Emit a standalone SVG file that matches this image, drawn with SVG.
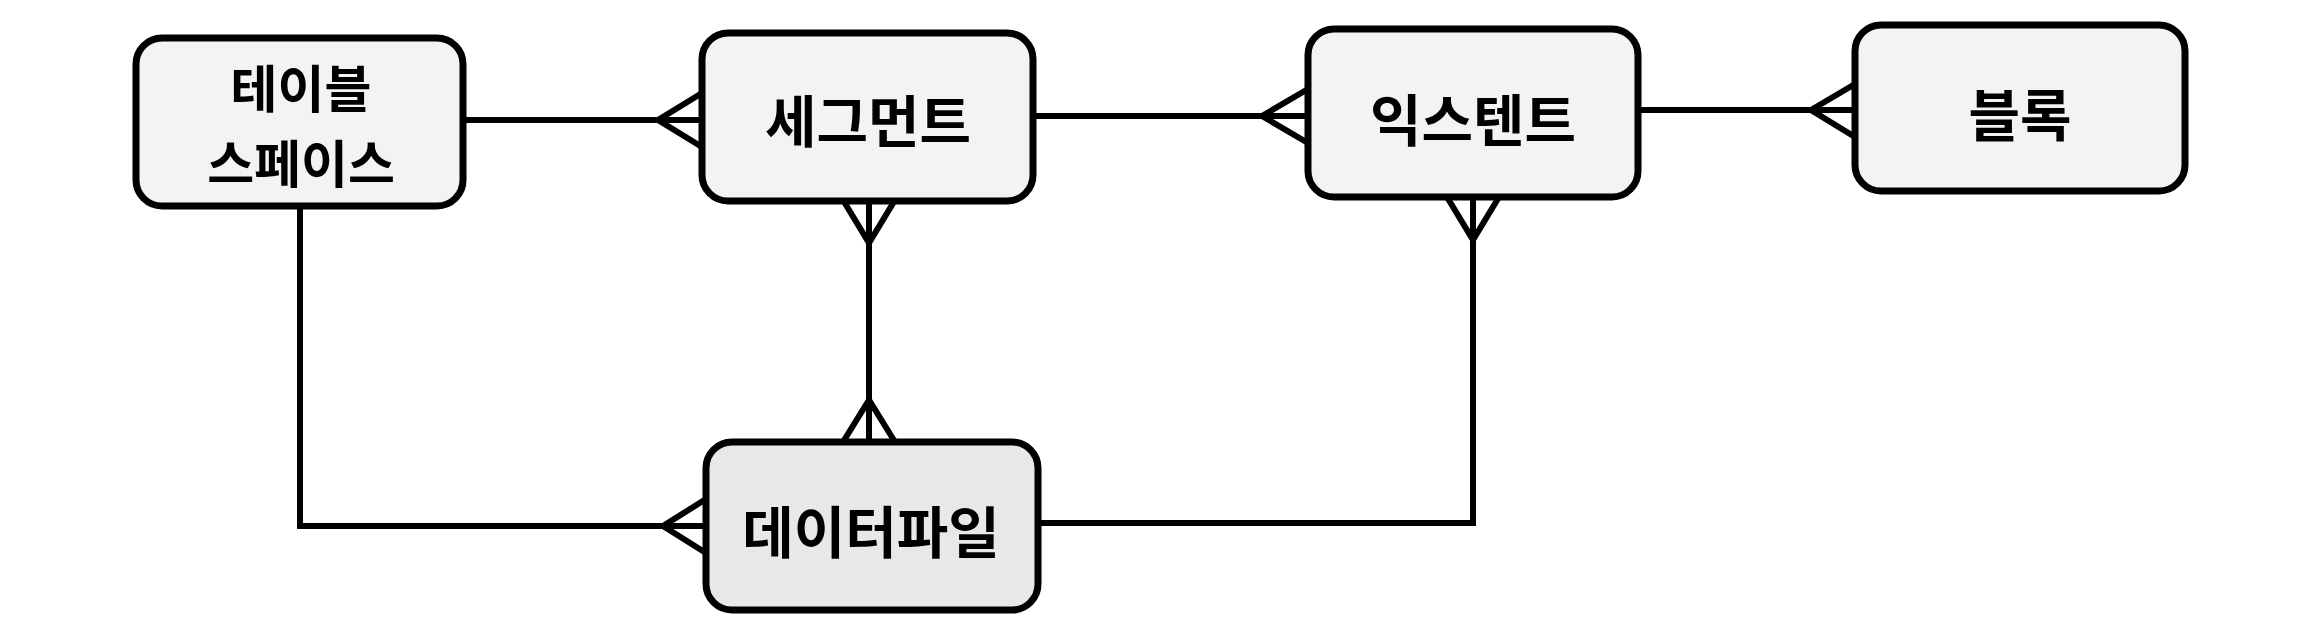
<svg xmlns="http://www.w3.org/2000/svg" width="2324" height="630" viewBox="0 0 2324 630">
<style>
.box{fill:#f3f3f3;stroke:#000;stroke-width:7}
.box.dark{fill:#e8e8e8}
.lbl{font-family:"Noto Sans CJK KR","Noto Sans",sans-serif;font-weight:bold;font-size:56px;fill:#000;text-anchor:middle;dominant-baseline:central}
.lbl.two{font-size:51px}
.ln{fill:none;stroke:#000;stroke-width:6;stroke-linejoin:miter}
</style>
<rect width="2324" height="630" fill="#fff"/>
<g id="connectors">
  <path class="ln" d="M463 120 H702"/>
  <path class="ln" d="M702 93 L658 120 L702 147"/>
  <path class="ln" d="M1033 116 H1308"/>
  <path class="ln" d="M1308 89 L1262 116 L1308 143"/>
  <path class="ln" d="M1638 110 H1855"/>
  <path class="ln" d="M1855 84 L1811 110 L1855 137"/>
  <path class="ln" d="M869 200 V442"/>
  <path class="ln" d="M843 200 L869 243 L895 200"/>
  <path class="ln" d="M843 442 L869 400 L895 442"/>
  <path class="ln" d="M300 206 V526 H706"/>
  <path class="ln" d="M706 499 L663 526 L706 553"/>
  <path class="ln" d="M1038 523 H1473 V197"/>
  <path class="ln" d="M1447 197 L1473 240 L1499 197"/>
</g>
<g id="node-tablespace">
  <rect class="box" x="136" y="38" width="327" height="168" rx="26"/>
  <text class="lbl two" x="301" y="86">테이블</text>
  <text class="lbl two" x="301" y="161">스페이스</text>
</g>
<g id="node-segment">
  <rect class="box" x="702" y="33" width="331" height="168" rx="26"/>
  <text class="lbl" x="868" y="117">세그먼트</text>
</g>
<g id="node-extent">
  <rect class="box" x="1308" y="29" width="330" height="168" rx="26"/>
  <text class="lbl" x="1473" y="116">익스텐트</text>
</g>
<g id="node-block">
  <rect class="box" x="1855" y="25" width="330" height="166" rx="26"/>
  <text class="lbl" x="2020" y="111">블록</text>
</g>
<g id="node-datafile">
  <rect class="box dark" x="706" y="442" width="332" height="168" rx="26"/>
  <text class="lbl" x="871" y="528">데이터파일</text>
</g>
</svg>
